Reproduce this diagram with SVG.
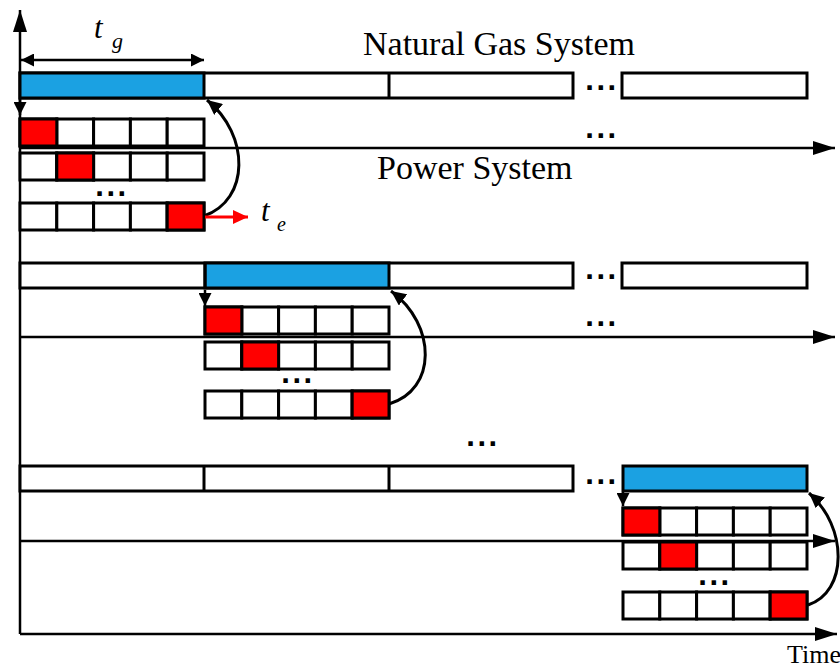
<svg xmlns="http://www.w3.org/2000/svg" width="840" height="670" viewBox="0 0 840 670">
<style>
.bar{fill:#fff;stroke:#000;stroke-width:3}
.blue{fill:#1ba1e2;stroke:#000;stroke-width:3}
.cell{fill:#fff;stroke:#000;stroke-width:3}
.red{fill:#f00;stroke:#000;stroke-width:3}
.axis{stroke:#000;stroke-width:2.5;fill:none}
.curve{stroke:#000;stroke-width:3;fill:none;marker-end:url(#ah)}
.lbl{font-family:"Liberation Serif","Times New Roman",serif;fill:#000}
.it{font-style:italic}
.dots{font-family:"Liberation Sans",Arial,sans-serif;font-weight:bold;font-size:31px;letter-spacing:2.5px;fill:#000;text-anchor:middle}
</style>
<defs>
<g id="row5">
<rect class="cell" x="0" y="0" width="36.8" height="27"/>
<rect class="cell" x="36.8" y="0" width="36.8" height="27"/>
<rect class="cell" x="73.6" y="0" width="36.8" height="27"/>
<rect class="cell" x="110.4" y="0" width="36.8" height="27"/>
<rect class="cell" x="147.2" y="0" width="36.8" height="27"/>
</g>
<marker id="ah" markerUnits="userSpaceOnUse" markerWidth="16" markerHeight="14" refX="15" refY="7" orient="auto" viewBox="0 0 16 14">
<path d="M0,0 L15,7 L0,14 Z" fill="#000"/>
</marker>
<marker id="ahb" markerUnits="userSpaceOnUse" markerWidth="24" markerHeight="14" refX="22" refY="7" orient="auto" viewBox="0 0 24 14">
<path d="M0,0 L22,7 L0,14 Z" fill="#000"/>
</marker>
<marker id="ahd" markerUnits="userSpaceOnUse" markerWidth="14" markerHeight="13" refX="13" refY="6.5" orient="auto-start-reverse" viewBox="0 0 14 13">
<path d="M0,0 L13,6.5 L0,13 Z" fill="#000"/>
</marker>
<marker id="ahr" markerUnits="userSpaceOnUse" markerWidth="16" markerHeight="14" refX="15" refY="7" orient="auto" viewBox="0 0 16 14">
<path d="M0,0 L15,7 L0,14 Z" fill="#f00"/>
</marker>
</defs>

<g id="axes">
<line class="axis" x1="20" y1="634" x2="20" y2="10" stroke-width="3" marker-end="url(#ahb)"/>
<line class="axis" x1="20" y1="634" x2="837" y2="634" marker-end="url(#ahb)"/>
<line class="axis" x1="20" y1="148" x2="835" y2="148" marker-end="url(#ahb)"/>
<line class="axis" x1="20" y1="337" x2="835" y2="337" marker-end="url(#ahb)"/>
<line class="axis" x1="20" y1="541" x2="835" y2="541" marker-end="url(#ahb)"/>
</g>

<g id="gas-row-1">
<rect class="bar" x="20" y="73" width="553" height="25"/>
<rect class="blue" x="20" y="73" width="184" height="25"/>
<line class="bar" x1="389" y1="73" x2="389" y2="98"/>
<rect class="bar" x="622" y="73" width="185" height="25"/>
<text class="dots" x="602" y="90">...</text>
</g>
<g id="gas-row-2">
<rect class="bar" x="20" y="263" width="553" height="25"/>
<rect class="blue" x="205" y="263" width="184" height="25"/>
<line class="bar" x1="205" y1="263" x2="205" y2="288"/>
<rect class="bar" x="622" y="263" width="185" height="25"/>
<text class="dots" x="602" y="279">...</text>
</g>
<g id="gas-row-3">
<rect class="bar" x="20" y="466" width="553" height="25"/>
<line class="bar" x1="204" y1="466" x2="204" y2="491"/>
<line class="bar" x1="389" y1="466" x2="389" y2="491"/>
<rect class="blue" x="623" y="466" width="184" height="25"/>
<text class="dots" x="602" y="484">...</text>
</g>

<g id="power-block-1">
<use href="#row5" x="20" y="119"/>
<rect class="red" x="20" y="119" width="36.8" height="27"/>
<use href="#row5" x="20" y="153"/>
<rect class="red" x="56.8" y="153" width="36.8" height="27"/>
<text class="dots" x="112" y="196">...</text>
<use href="#row5" x="20" y="203"/>
<rect class="red" x="167.2" y="203" width="36.8" height="27"/>
<text class="dots" x="602" y="138">...</text>
</g>
<g id="power-block-2">
<use href="#row5" x="205" y="307"/>
<rect class="red" x="205" y="307" width="36.8" height="27"/>
<use href="#row5" x="205" y="342"/>
<rect class="red" x="241.8" y="342" width="36.8" height="27"/>
<text class="dots" x="298" y="383">...</text>
<use href="#row5" x="205" y="391"/>
<rect class="red" x="352.2" y="391" width="36.8" height="27"/>
<text class="dots" x="602" y="326">...</text>
</g>
<g id="middle-dots">
<text class="dots" x="483" y="446">...</text>
</g>
<g id="power-block-3">
<use href="#row5" x="623" y="508"/>
<rect class="red" x="623" y="508" width="36.8" height="27"/>
<use href="#row5" x="623" y="542"/>
<rect class="red" x="659.8" y="542" width="36.8" height="27"/>
<text class="dots" x="715" y="585">...</text>
<use href="#row5" x="623" y="592"/>
<rect class="red" x="770.2" y="592" width="36.8" height="27"/>
</g>

<g id="connectors">
<path class="curve" d="M204,216 C250,200 250,135 207,100"/>
<path class="curve" d="M389,404 C437,390 437,325 391,291"/>
<path class="curve" d="M808,605 C848,592 848,527 809,493"/>
<line x1="20" y1="99" x2="20" y2="115" stroke="#000" stroke-width="2.5" marker-end="url(#ahd)"/>
<line x1="205" y1="290" x2="205" y2="306" stroke="#000" stroke-width="2.5" marker-end="url(#ahd)"/>
<line x1="623" y1="492" x2="623" y2="506" stroke="#000" stroke-width="2.5" marker-end="url(#ahd)"/>
<line x1="21" y1="60" x2="204" y2="60" stroke="#000" stroke-width="2.5" marker-start="url(#ahd)" marker-end="url(#ahd)"/>
<line x1="205" y1="217" x2="248" y2="217" stroke="#f00" stroke-width="3" marker-end="url(#ahr)"/>
</g>

<g id="labels">
<text class="lbl" x="363" y="55" font-size="34">Natural Gas System</text>
<text class="lbl" x="377" y="179" font-size="34">Power System</text>
<text class="lbl it" x="94" y="38" font-size="31">t</text>
<text class="lbl it" x="112" y="48" font-size="22">g</text>
<text class="lbl it" x="261" y="221" font-size="31">t</text>
<text class="lbl it" x="277" y="231" font-size="20">e</text>
<text class="lbl" x="787" y="663" font-size="26">Time</text>
</g>
</svg>
